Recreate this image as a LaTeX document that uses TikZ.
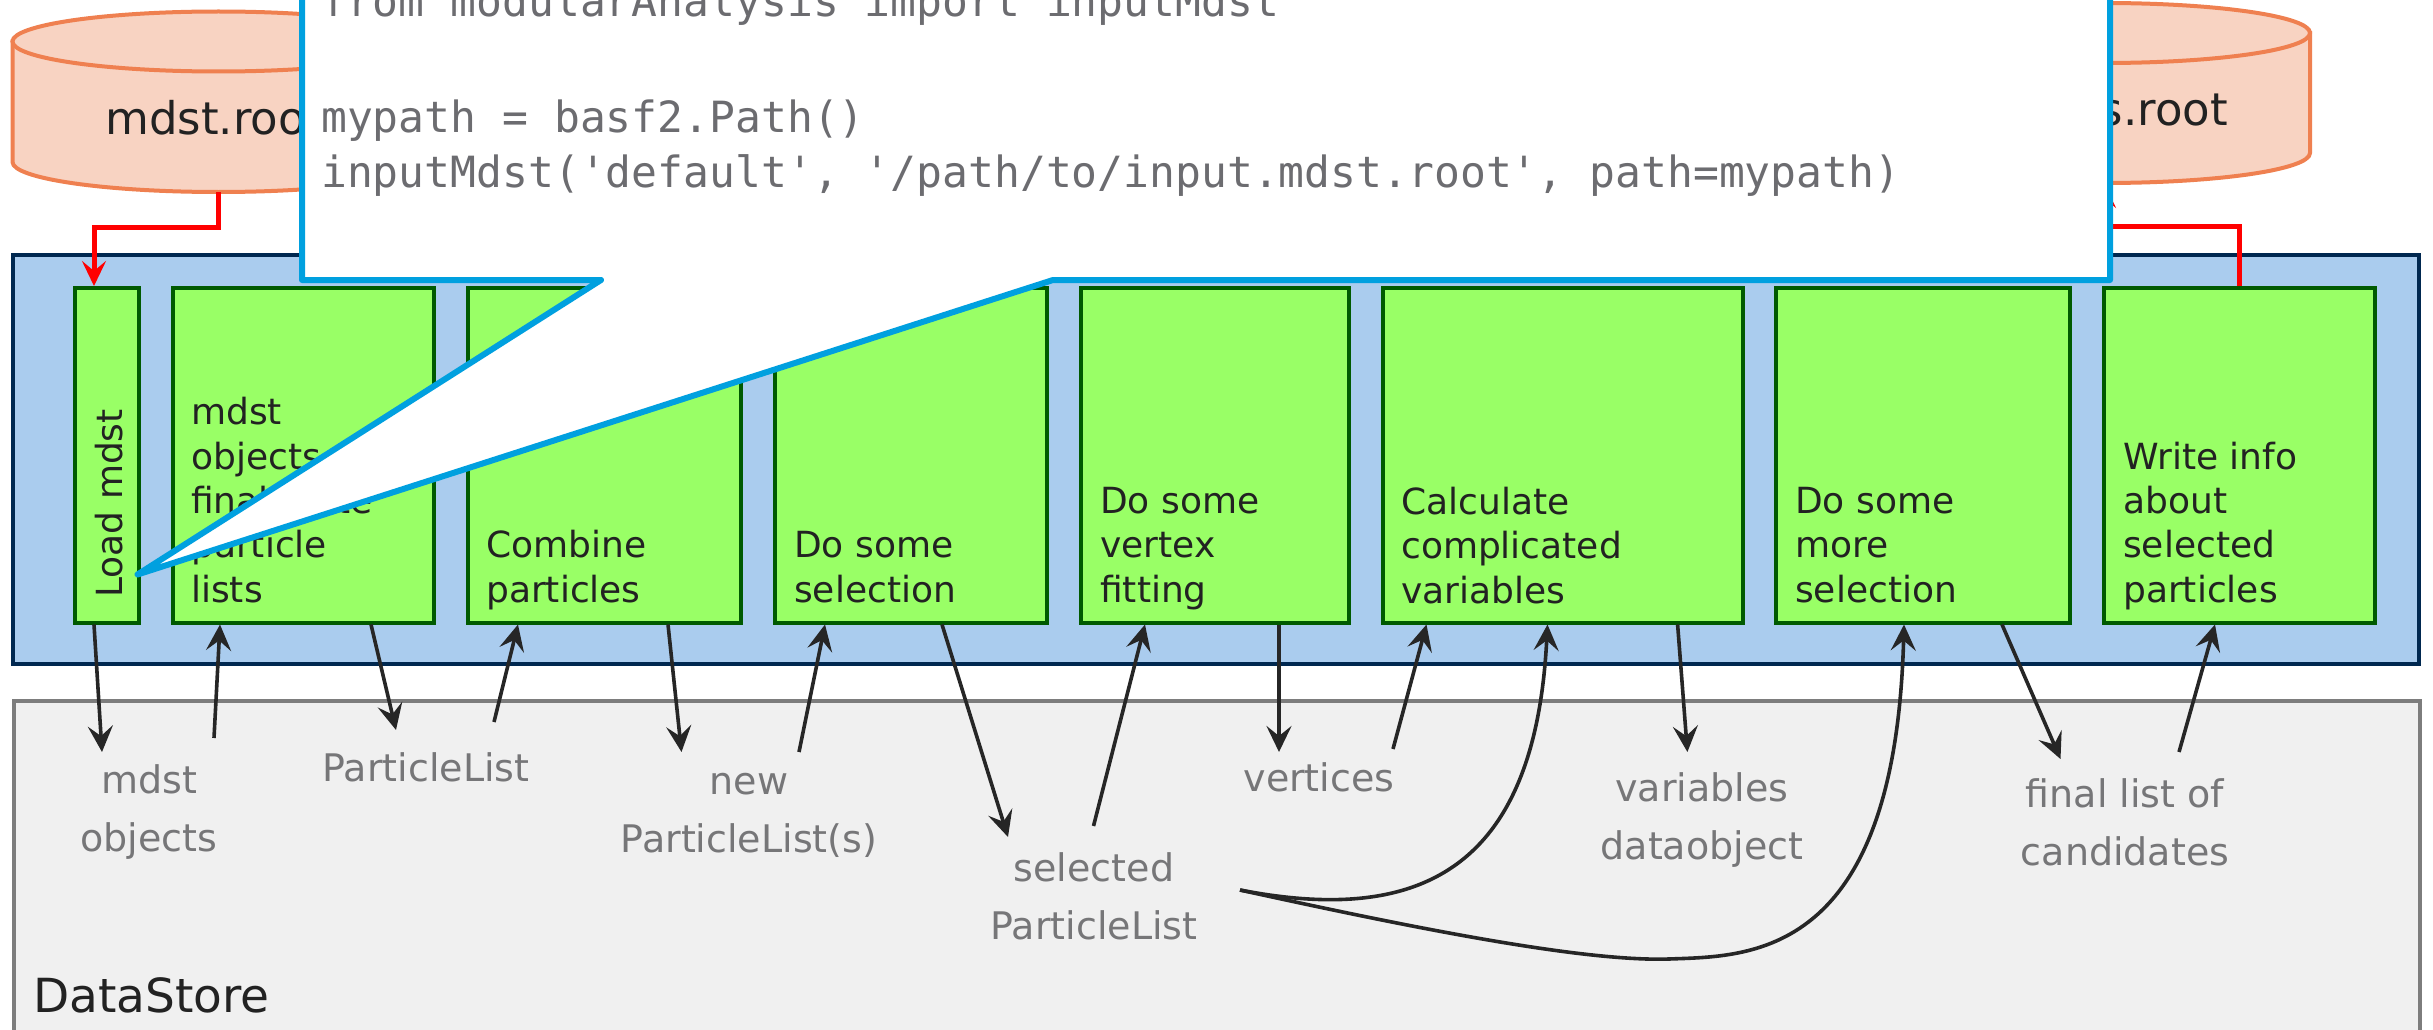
\documentclass[tikz,border=0pt]{standalone}
\usepackage{fontspec}
\setmainfont{DejaVu Sans}
\newfontfamily\codefont{DejaVu Sans Mono}[Ligatures=TeXOff]
\usetikzlibrary{arrows.meta,calc}
\definecolor{cylfill}{RGB}{248,211,194}
\definecolor{cyldraw}{RGB}{239,128,80}
\definecolor{pathfill}{RGB}{170,204,238}
\definecolor{pathdraw}{RGB}{0,40,80}
\definecolor{boxfill}{RGB}{153,255,102}
\definecolor{boxdraw}{RGB}{0,90,0}
\definecolor{dsfill}{RGB}{240,240,240}
\definecolor{dsdraw}{RGB}{125,125,125}
\definecolor{calloutc}{RGB}{0,160,223}
\definecolor{labelgray}{RGB}{118,118,120}
\definecolor{codegray}{RGB}{108,108,112}
\definecolor{arrowc}{RGB}{38,38,38}
\definecolor{txtblack}{RGB}{34,34,34}
\definecolor{redline}{RGB}{255,0,0}
\tikzset{
  gbox/.style={draw=boxdraw, fill=boxfill, line width=3.5pt, inner sep=0pt, anchor=north west},
  boxtext/.style={font=\fontsize{36}{44.3}\selectfont, text=txtblack, align=left, anchor=base west, inner sep=0pt},
  lbl/.style={font=\fontsize{38}{58}\selectfont, text=labelgray, align=center, anchor=base, inner sep=0pt},
  flow/.style={draw=arrowc, line width=3.6pt, -{Stealth[length=26pt,width=25pt,inset=10pt]}},
  redarrow/.style={draw=redline, line width=5pt, -{Stealth[length=25pt,width=24pt,inset=10pt]}},
  cyl/.style={fill=cylfill, draw=cyldraw, line width=4pt},
  callout/.style={draw=calloutc, fill=white, line width=6pt, line join=round},
  code/.style={font=\codefont\fontsize{43}{55}\selectfont, text=codegray, anchor=base west, inner sep=0pt},
  cyltext/.style={font=\fontsize{45}{54}\selectfont, text=txtblack, inner sep=0pt},
}
\begin{document}
\begin{tikzpicture}[x=1pt,y=-1pt]
\useasboundingbox (0,0) rectangle (2433,1030);
\clip (0,0) rectangle (2433,1030);

% containers
\node[draw=pathdraw, fill=pathfill, line width=3.5pt, minimum width=2406pt, minimum height=409pt, anchor=north west, inner sep=0pt] (pathbox) at (11,253) {};
\node[draw=dsdraw, fill=dsfill, line width=3.5pt, minimum width=2406pt, minimum height=332pt, anchor=north west, inner sep=0pt] (ds) at (12,699) {};
\node[font=\fontsize{47}{56}\selectfont, text=txtblack, anchor=base west, inner sep=0pt] (dstext) at (33,1012) {DataStore};

% modules
\node[gbox, minimum width=64pt,  minimum height=335pt] (b1) at (73,286) {};
\node[gbox, minimum width=261pt, minimum height=335pt] (b2) at (171,286) {};
\node[gbox, minimum width=273pt, minimum height=335pt] (b3) at (466,286) {};
\node[gbox, minimum width=272pt, minimum height=335pt] (b4) at (773,286) {};
\node[gbox, minimum width=268pt, minimum height=335pt] (b5) at (1079,286) {};
\node[gbox, minimum width=360pt, minimum height=335pt] (b6) at (1381,286) {};
\node[gbox, minimum width=294pt, minimum height=335pt] (b7) at (1774,286) {};
\node[gbox, minimum width=271pt, minimum height=335pt] (b8) at (2102,286) {};

\node[boxtext, rotate=90] (t1) at (122,598) {Load mdst};
\node[boxtext] (t2) at (191,602) {mdst\\objects\\final-state\\particle\\lists};
\node[boxtext] (t3) at (486,602) {Combine\\particles};
\node[boxtext] (t4) at (794,602) {Do some\\selection};
\node[boxtext] (t5) at (1100,602) {Do some\\vertex\\fitting};
\node[boxtext] (t6) at (1401,603) {Calculate\\complicated\\variables};
\node[boxtext] (t7) at (1795,602) {Do some\\more\\selection};
\node[boxtext] (t8) at (2123,602) {Write info\\about\\selected\\particles};

% datastore objects
\node[lbl] (L1) at (149,851) {mdst\\objects};
\node[lbl] (L2) at (426,781) {ParticleList};
\node[lbl] (L3) at (749,852) {new\\ParticleList(s)};
\node[lbl] (L4) at (1094,939) {selected\\ParticleList};
\node[lbl] (L5) at (1319,791) {vertices};
\node[lbl] (L6) at (1702,859) {variables\\dataobject};
\node[lbl] (L7) at (2125,865) {final list of\\candidates};

% data flow
\draw[flow] ($(b1.south west)+(21,0)$) -- ($(L1.base)+(-47,-99)$);
\draw[flow] ($(L1.base)+(65,-113)$) -- ($(b2.south west)+(49,0)$);
\draw[flow] ($(b2.south west)+(200,0)$) -- ($(L2.base)+(-30,-51)$);
\draw[flow] ($(L2.base)+(68,-59)$) -- ($(b3.south west)+(52,0)$);
\draw[flow] ($(b3.south west)+(202,0)$) -- ($(L3.base)+(-67.5,-100)$);
\draw[flow] ($(L3.base)+(50,-100)$) -- ($(b4.south west)+(52,0)$);
\draw[flow] ($(b4.south west)+(169,0)$) -- ($(L4.base)+(-86,-102)$);
\draw[flow] ($(L4.base)+(-0.5,-113)$) -- ($(b5.south west)+(66,0)$);
\draw[flow] ($(b5.south west)+(200,0)$) -- ($(L5.base)+(-40,-39)$);
\draw[flow] ($(L5.base)+(74,-42)$) -- ($(b6.south west)+(45.5,0)$);
\draw[flow] ($(L4.base)+(146,-49)$) .. controls (1420,925) and (1535,870) .. ($(b6.south west)+(166.5,0)$);
\draw[flow] ($(b6.south west)+(296.6,0)$) -- ($(L6.base)+(-14.6,-107)$);
\draw[flow] ($(L4.base)+(146,-49)$) .. controls (1400,925) and (1580,962) .. (1669,959) .. controls (1749,956) and (1895,960) .. ($(b7.south west)+(130,0)$);
\draw[flow] ($(b7.south west)+(228,0)$) -- ($(L7.base)+(-64.5,-106)$);
\draw[flow] ($(L7.base)+(54,-113)$) -- ($(b8.south west)+(113,0)$);

% files
\path[cyl] (12.5,41.5) -- (12.5,162) arc[start angle=180, end angle=360, x radius=206pt, y radius=30pt] -- (424.5,41.5) -- cycle;
\path[cyl] (218.5,41.5) ellipse [x radius=206pt, y radius=30pt];
\node[cyltext, anchor=base west] (fileL) at (105,135) {mdst.root};
\coordinate (cylLbot) at (218.5,192);

\path[cyl] (1898,33) -- (1898,153) arc[start angle=180, end angle=360, x radius=206pt, y radius=30pt] -- (2310,33) -- cycle;
\path[cyl] (2104,33) ellipse [x radius=206pt, y radius=30pt];
\node[cyltext, anchor=base east] (fileR) at (2228,126) {ntuples.root};
\coordinate (cylRbot) at (2104,183);

\draw[redarrow] (cylLbot) -- ++(0,35) -| ($(b1.north west)+(21,0)$);
\draw[redarrow] (b8.north) -- ++(0,-60) -| (cylRbot);

% code callout
\coordinate (tip) at ($(b1.south east)+(-3,-50)$);
\draw[callout] (302,-60) -- (302,280) -- (601,280) -- (tip) -- (1053,280) -- (2110,280) -- (2110,-60) -- cycle;
\node[code] (code1) at (321,17) {from modularAnalysis import inputMdst};
\node[code] (code2) at (321,132) {mypath = basf2.Path()};
\node[code] (code3) at (321,187) {inputMdst('default', '/path/to/input.mdst.root', path=mypath)};
\end{tikzpicture}
\end{document}
